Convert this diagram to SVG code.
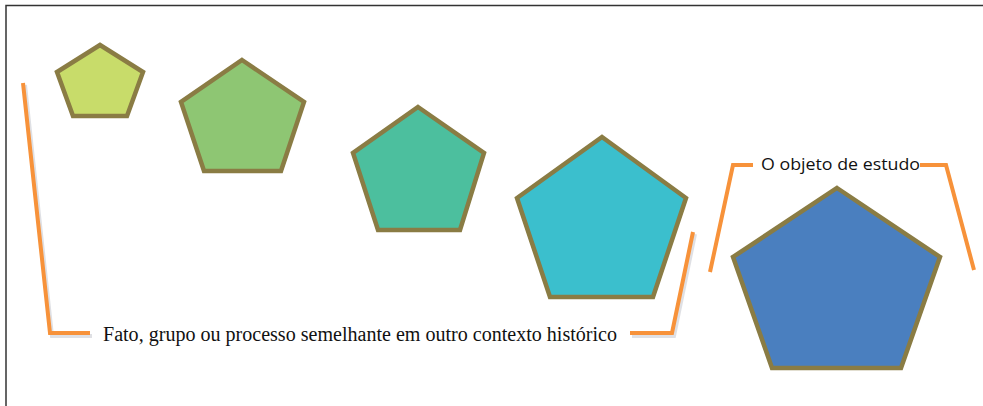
<svg xmlns="http://www.w3.org/2000/svg" width="983" height="406" viewBox="0 0 983 406">
<style>
.pent{stroke:#8a7c44;stroke-width:4.5;stroke-linejoin:miter}
.br{fill:none;stroke:#f7923a;stroke-width:4;stroke-linejoin:miter}
.sh{fill:none;stroke:#c9ccd2;stroke-width:4;opacity:0.6}
.serif{font-family:"Liberation Serif","Times New Roman",serif;font-size:20px;fill:#111}
.sans{font-family:"Open Sans","Liberation Sans",sans-serif;font-size:17px;fill:#111}
</style>
<rect width="983" height="406" fill="#ffffff"/>
<g id="frame" fill="none" stroke="#333" stroke-width="1.5">
<path d="M6,406 V5.5 H983"/>
</g>
<g id="pentagon1"><polygon class="pent" fill="#c8dc6a" points="100,45 143,72 127,116 73,116 57,72"/></g>
<g id="pentagon2"><polygon class="pent" fill="#8ec673" points="242,60 304,102 281,171 204,171 181,102"/></g>
<g id="pentagon3"><polygon class="pent" fill="#4cbf9e" points="418,107 484,153 460,230 378,230 353,153"/></g>
<g id="pentagon4"><polygon class="pent" fill="#3bbfcd" points="602,137 686,198 653,297 550,297 517,198"/></g>
<g id="pentagon5"><polygon class="pent" fill="#4a7fbf" points="837,188 940,257 901,368 772,368 733,257"/></g>
<g id="connectors">
<path class="sh" d="M25,85 L52,336 H92"/>
<path class="sh" d="M632,336 H674 L695,234"/>
<path class="br" d="M23,83 L50,333 H90"/>
<path class="br" d="M630,333 H672 L693,232"/>
<path class="br" d="M710,272 L733,165 H753"/>
<path class="br" d="M920,165 H946 L974,270"/>
</g>
<g id="label-bottom"><text class="serif" x="103" y="341" textLength="514" lengthAdjust="spacingAndGlyphs">Fato, grupo ou processo semelhante em outro contexto histórico</text></g>
<g id="label-top"><text class="sans" x="761" y="170" textLength="159" lengthAdjust="spacingAndGlyphs">O objeto de estudo</text></g>
</svg>
